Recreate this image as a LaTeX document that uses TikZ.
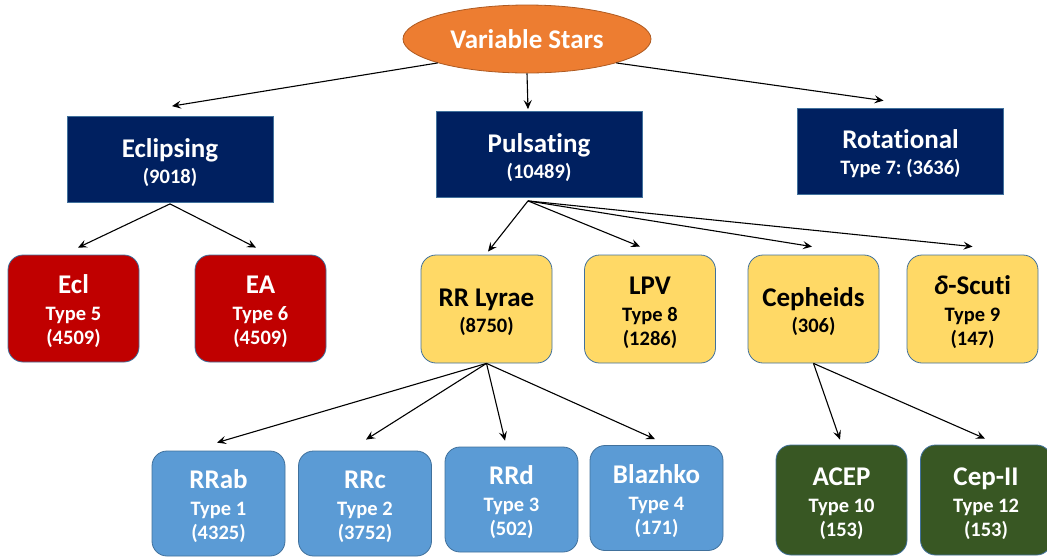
\documentclass[tikz,border=0pt]{standalone}
\usepackage{fontspec}
\setmainfont{Carlito}[Ligatures=NoCommon]
\frenchspacing
\usetikzlibrary{shapes.geometric,arrows.meta}
\definecolor{vsorange}{HTML}{ED7D31}
\definecolor{vsorangeb}{HTML}{AE5A21}
\definecolor{navy}{HTML}{002060}
\definecolor{redbox}{HTML}{C00000}
\definecolor{yelbox}{HTML}{FFD966}
\definecolor{bluebox}{HTML}{5B9BD5}
\definecolor{greenbox}{HTML}{385723}
\definecolor{edgeb}{HTML}{41719C}
\newcommand{\roottl}[1]{{\fontsize{27}{27}\selectfont #1}}
\newcommand{\ttl}[1]{{\fontsize{27}{27}\selectfont\rule{0pt}{25pt}#1}}
\tikzset{
  base/.style={draw=edgeb, line width=0.8pt, inner sep=0pt, align=center,
    font=\bfseries\fontsize{20.5}{24}\selectfont},
  sqbox/.style={base, rectangle, fill=navy, text=white, minimum width=206pt, minimum height=86pt},
  rbox/.style={base, rectangle, rounded corners=15pt, minimum width=131pt, minimum height=107pt},
  redb/.style={rbox, fill=redbox, text=white},
  yelb/.style={rbox, fill=yelbox, text=black, minimum height=108pt},
  blub/.style={rbox, fill=bluebox, text=white, minimum width=133pt, minimum height=105pt},
  grnb/.style={rbox, fill=greenbox, text=white, minimum height=110pt},
  arr/.style={-{Stealth[length=9pt,width=8pt,inset=3.5pt]}, line width=1.1pt, black},
}
\begin{document}
\begin{tikzpicture}[x=1pt,y=-1pt]
\useasboundingbox (0,0) rectangle (1047,558);
% root
\node[ellipse, fill=vsorange, draw=vsorangeb, line width=0.8pt, minimum width=248pt, minimum height=68pt, inner sep=0pt, text=white, font=\bfseries] (vs) at (527,39) {\roottl{Variable Stars}};
% level 1
\node[sqbox] (ecl) at (170,159.5) {\ttl{Eclipsing}\\[2pt](9018)};
\node[sqbox] (pul) at (539,154.5) {\ttl{Pulsating}\\[2pt](10489)};
\node[sqbox] (rot) at (900.5,151) {\ttl{Rotational}\\[2pt]Type 7: (3636)};
% level 2
\node[redb] (ecl5) at (73.5,308.5) {\ttl{Ecl}\\[3pt]Type 5\\(4509)};
\node[redb] (ea) at (260.5,308.5) {\ttl{EA}\\[3pt]Type 6\\(4509)};
\node[yelb] (rrl) at (486.5,309) {\ttl{RR Lyrae}\\[2pt](8750)};
\node[yelb] (lpv) at (650,309) {\ttl{LPV}\\[3pt]Type 8\\(1286)};
\node[yelb] (ceph) at (813.5,309) {\ttl{Cepheids}\\[2pt](306)};
\node[yelb] (dsc) at (972.5,309) {\ttl{\textit{δ}-Scuti}\\[3pt]Type 9\\(147)};
% level 3
\node[blub] (rrab) at (218.5,503.5) {\ttl{RRab}\\[3pt]Type 1\\(4325)};
\node[blub] (rrc) at (365,503.5) {\ttl{RRc}\\[3pt]Type 2\\(3752)};
\node[blub] (rrd) at (511.5,499.5) {\ttl{RRd}\\[3pt]Type 3\\(502)};
\node[blub] (blz) at (656.5,498) {\ttl{Blazhko}\\[3pt]Type 4\\(171)};
\node[grnb] (acep) at (841.5,500) {\ttl{ACEP}\\[3pt]Type 10\\(153)};
\node[grnb] (cep2) at (986,500) {\ttl{Cep-II}\\[3pt]Type 12\\(153)};
% connectors
\draw[arr] (vs.195) -- ([xshift=2pt,yshift=10pt]ecl.north);
\draw[arr] (vs.south) -- ([xshift=-11pt,yshift=2pt]pul.north);
\draw[arr] (vs.345) -- ([xshift=-17pt,yshift=7pt]rot.north);
\coordinate (eclout) at ([yshift=-1pt]ecl.south);
\draw[arr] (eclout) -- ([xshift=4.5pt,yshift=7pt]ecl5.north);
\draw[arr] (eclout) -- ([xshift=-4.5pt,yshift=7pt]ea.north);
\coordinate (pulout) at ([xshift=-11pt,yshift=-3pt]pul.south);
\draw[arr] (pulout) -- ([xshift=1.5pt,yshift=3pt]rrl.north);
\draw[arr] (pulout) -- ([xshift=-10pt,yshift=8pt]lpv.north);
\draw[arr] (pulout) -- ([xshift=-1.5pt,yshift=8pt]ceph.north);
\draw[arr] (pulout) -- ([yshift=8pt]dsc.north);
\draw[arr] (rrl.south) -- ([xshift=-1.5pt,yshift=8pt]rrab.north);
\draw[arr] (rrl.south) -- ([xshift=1pt,yshift=11pt]rrc.north);
\draw[arr] (rrl.south) -- ([xshift=-6.5pt,yshift=6pt]rrd.north);
\draw[arr] (rrl.south) -- ([xshift=-1.5pt,yshift=6pt]blz.north);
\draw[arr] (ceph.south) -- ([xshift=-1.5pt,yshift=5pt]acep.north);
\draw[arr] (ceph.south) -- ([xshift=-1pt,yshift=6pt]cep2.north);
\end{tikzpicture}
\end{document}
